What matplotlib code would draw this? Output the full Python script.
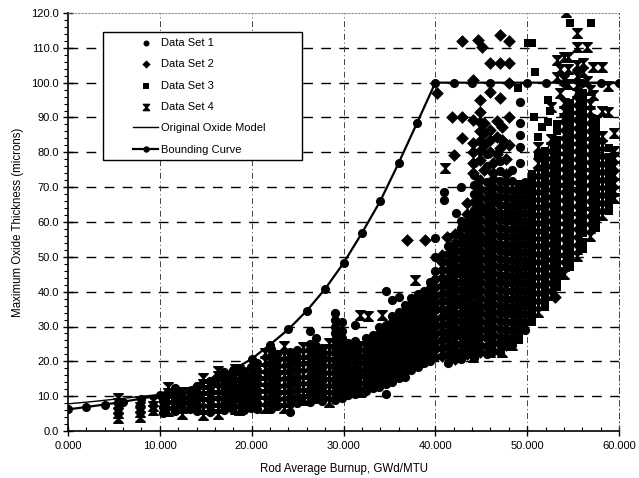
import matplotlib
matplotlib.use("Agg")
import matplotlib.pyplot as plt
from matplotlib.path import Path
from matplotlib.patches import Rectangle
from matplotlib.ticker import MultipleLocator, FormatStrFormatter

plt.rcParams['font.family'] = ['Liberation Sans', 'DejaVu Sans']

# ---------------- data ----------------
# Bounding curve
bound_x = [0, 2, 4, 6, 8, 10, 12, 14, 16, 18, 20, 22, 24, 26, 28, 30, 32, 34, 36, 38, 40,
           42, 44, 46, 48, 50, 52, 54, 56, 58, 60]
bound_y = [6.2, 6.9, 7.6, 8.4, 9.3, 10.3, 11.5, 13.0, 15.0, 17.6, 20.7, 24.8, 29.2, 34.5, 40.8,
           48.2, 56.8, 66.0, 76.9, 88.4, 100.0,
           100.0, 100.0, 100.0, 100.0, 100.0, 100.0, 100.0, 100.0, 100.0, 100.0]

# Original oxide model
orig_x = [0, 2.5, 5, 7.5, 10, 12.5, 15, 17.5, 20, 22.5, 25, 27.5, 30, 32.5, 35, 37.5, 40,
          42.5, 45, 47.5, 50, 52.5, 55, 56]
orig_y = [7.8, 8.4, 9.1, 9.8, 10.5, 11.3, 12.3, 13.5, 14.8, 16.4, 18.3, 20.5, 23.2, 26.0, 29.6,
          34.0, 40.0, 45.5, 52.5, 61.0, 71.5, 82.5, 95.5, 100.5]

# Data Set 1 (circles): (burnup, [oxide values])
set1_cols = [
    (10.3, [5.3, 6.9, 8.5, 10.1]),
    (11.6, [5.6, 7.3, 8.9, 10.6, 12.3]),
    (13.3, [6.4, 8.1, 9.7, 11.4]),
    (14.0, [5.8, 7.5, 9.3, 11.0, 12.8]),
    (15.5, [5.4, 7.2, 9.0, 10.8, 12.6, 14.4]),
    (17.0, [5.9, 7.8, 9.7, 11.6, 13.5, 15.4, 17.0]),
    (17.7, [6.6, 8.5, 10.4, 12.3, 14.2, 16.2]),
    (19.2, [5.9, 7.8, 9.7, 11.6, 13.5, 15.4, 17.2]),
    (19.9, [6.7, 8.6, 10.5, 12.4, 14.3, 16.2, 18.3]),
    (20.6, [6.2, 8.1, 10.0, 11.9, 13.8, 15.7, 17.6, 19.6]),
    (22.1, [6.3, 8.2, 10.1, 12.0, 13.9, 15.8, 17.7, 19.6, 21.5, 23.4]),
    (22.8, [7.2, 9.1, 11.0, 12.9, 14.8, 16.7, 18.6, 20.5, 22.0]),
    (24.2, [5.5, 7.7, 9.6, 11.5, 13.4, 15.3, 17.2, 19.1, 21.0, 22.6]),
    (24.9, [8.0, 9.9, 11.8, 13.7, 15.6, 17.5, 19.4, 21.3, 23.2]),
    (26.3, [8.2, 10.1, 12.0, 13.9, 15.8, 17.7, 19.6, 21.5, 23.4, 25.0, 28.7]),
    (27.0, [9.1, 11.0, 12.9, 14.8, 16.7, 18.6, 20.5, 22.4, 24.3, 26.8]),
    (27.7, [8.6, 10.5, 12.4, 14.3, 16.2, 18.1, 20.0, 21.9, 23.8]),
    (29.1, [9.0, 10.9, 12.8, 14.7, 16.6, 18.5, 20.4, 22.3, 24.2, 26.1, 28.0, 29.9, 31.8, 34.0]),
    (29.8, [9.6, 11.5, 13.4, 15.3, 17.2, 19.1, 21.0, 22.9, 24.8, 26.7, 28.6, 31.2]),
    (30.5, [10.2, 12.1, 14.0, 15.9, 17.8, 19.7, 21.6, 23.5, 25.4]),
    (31.2, [10.6, 12.5, 14.4, 16.3, 18.2, 20.1, 22.0, 23.9, 25.8, 30.4]),
    (32.5, [11.6, 13.5, 15.4, 17.3, 19.2, 21.1, 23.0, 24.9, 26.8]),
    (33.2, [12.3, 14.2, 16.1, 18.0, 19.9, 21.8, 23.7, 25.6, 27.5]),
    (33.9, [12.7, 14.6, 16.5, 18.4, 20.3, 22.2, 24.1, 26.0, 27.9, 29.8]),
    (34.6, [10.5, 13.4, 15.3, 17.2, 19.1, 21.0, 22.9, 24.8, 26.7, 28.6, 30.5, 40.3]),
    (35.3, [14.2, 16.1, 18.0, 19.9, 21.8, 23.7, 25.6, 27.5, 29.4, 31.3, 33.0, 37.6]),
    (36.0, [15.3, 17.2, 19.1, 21.0, 22.9, 24.8, 26.7, 28.6, 30.5, 32.4, 34.2, 38.5]),
    (36.7, [15.4, 17.3, 19.2, 21.1, 23.0, 24.9, 26.8, 28.7, 30.6, 32.5, 34.4, 36.2]),
    (37.4, [17.6, 19.5, 21.4, 23.3, 25.2, 27.1, 29.0, 30.9, 32.8, 34.7, 36.6, 38.2]),
    (38.1, [18.4, 20.3, 22.2, 24.1, 26.0, 27.9, 29.8, 31.7, 33.6, 35.5, 37.4, 39.3]),
    (38.8, [19.4, 21.3, 23.2, 25.1, 27.0, 28.9, 30.8, 32.7, 34.6, 36.5, 38.4, 40.3]),
    (39.4, [20.1, 22.0, 23.9, 25.8, 27.7, 29.6, 31.5, 33.4, 35.3, 37.2, 39.1, 41.0, 42.8]),
    (40.0, [21.2, 23.5, 25.6, 27.9, 30.1, 32.2, 34.6, 36.8, 39.0, 41.3, 43.5, 45.8, 50.0, 55.4]),
    (40.9, [66.3, 68.5]),
    (41.4, [19.6, 21.9, 24.0, 26.3, 28.5, 30.8, 33.0, 35.1, 37.4, 39.6, 41.9, 44.0, 46.3, 48.5,
            50.8, 53.0, 55.7]),
    (42.2, [62.6]),
    (42.8, [20.6, 22.7, 25.0, 27.2, 29.4, 31.7, 33.9, 36.1, 38.3, 40.6, 42.8, 45.0, 47.2, 49.5,
            51.7, 53.9, 56.1, 58.4, 60.2, 70.0]),
    (44.2, [21.0, 23.3, 25.5, 27.7, 30.0, 32.2, 34.4, 36.6, 38.9, 41.1, 43.3, 45.6, 47.8, 50.0,
            52.2, 54.5, 56.7, 58.9, 61.1, 63.4, 65.6, 68.0, 70.5, 73.5, 77.0]),
    (45.6, [22.1, 24.3, 26.6, 28.8, 31.0, 33.2, 35.5, 37.7, 39.9, 42.1, 44.4, 46.6, 48.8, 51.0,
            53.3, 55.5, 57.7, 60.0, 62.2, 64.4, 66.6, 68.9, 71.4, 76.0, 79.5]),
    (47.0, [22.7, 24.9, 27.1, 29.4, 31.6, 33.8, 36.0, 38.3, 40.5, 42.7, 44.9, 47.2, 49.4, 51.6,
            53.8, 56.1, 58.3, 60.5, 62.7, 65.0, 67.2, 69.4, 71.7, 74.5, 77.6]),
    (48.4, [24.6, 26.8, 29.1, 31.3, 33.5, 35.7, 38.0, 40.2, 42.4, 44.6, 46.9, 49.1, 51.3, 53.5,
            55.8, 58.0, 60.2, 62.4, 64.7, 66.9, 69.2, 71.8, 75.0]),
    (49.2, [77.0, 81.5, 85.0, 88.4, 94.5]),
    (49.8, [29.1, 31.4, 33.6, 35.8, 38.0, 40.3, 42.5, 44.7, 47.0, 49.2, 51.4, 53.6, 55.9, 58.1,
            60.3, 62.6, 64.8, 67.0, 69.3, 71.6]),
]

# Data Set 2 (diamonds)
set2_cols = [
    (36.9, [54.8]),
    (38.9, [54.8]),
    (40.2, [97.0]),
    (40.7, [21.6, 23.8, 26.1, 28.3, 30.5, 32.7, 35.0, 37.2, 39.4, 41.7, 43.9, 46.1, 48.4, 50.4]),
    (41.3, [55.7]),
    (41.8, [90.0]),
    (42.0, [79.2]),
    (42.1, [20.6, 22.9, 25.1, 27.3, 29.6, 31.8, 34.0, 36.2, 38.5, 40.7, 42.9, 45.2, 47.4, 49.6,
            51.9, 54.1, 56.5]),
    (42.9, [84.0, 90.2, 112.0]),
    (43.5, [22.1, 24.4, 26.6, 28.8, 31.1, 33.3, 35.5, 37.8, 40.0, 42.2, 44.5, 46.7, 48.9, 51.2,
            53.4, 55.6, 57.9, 60.1, 62.2, 65.5]),
    (44.1, [74.0, 77.0, 80.0, 82.7, 89.3, 100.8]),
    (44.7, [112.2]),
    (44.9, [22.6, 24.8, 27.1, 29.3, 31.5, 33.8, 36.0, 38.2, 40.5, 42.7, 44.9, 47.2, 49.4, 51.6,
            53.9, 56.1, 58.3, 60.6, 62.8, 65.0, 67.3, 69.6, 72.0, 77.8, 80.5, 83.2, 86.0, 88.6,
            91.5, 95.0]),
    (45.1, [110.3]),
    (45.3, [75.0, 82.0, 85.5, 88.5]),
    (46.0, [80.0, 83.5, 86.4, 97.4, 105.6]),
    (46.3, [23.1, 25.4, 27.6, 29.8, 32.1, 34.3, 36.5, 38.8, 41.0, 43.2, 45.5, 47.7, 49.9, 52.2,
            54.4, 56.6, 58.9, 61.1, 63.3, 65.6, 67.8, 70.0, 72.4, 74.2, 77.0]),
    (46.7, [79.5, 84.5, 89.0]),
    (47.0, [81.2, 95.6, 105.6, 113.7]),
    (47.3, [83.5, 87.3]),
    (47.7, [24.6, 26.9, 29.1, 31.3, 33.6, 35.8, 38.0, 40.3, 42.5, 44.7, 47.0, 49.2, 51.4, 53.7,
            55.9, 58.1, 60.4, 62.6, 64.8, 67.1, 69.3, 71.6, 73.9, 78.0]),
    (48.0, [82.0, 90.2, 100.0, 105.6, 112.0]),
    (53.0, [38.5]),
]

# Data Set 3 (squares)
set3_cols = [
    (25.5, [9.4]),
    (26.4, [10.3]),
    (39.1, [22.4]),
    (49.0, [98.5]),
    (49.1, [26.2, 28.4, 30.7, 32.9, 35.1, 37.4, 39.6, 41.8, 44.1, 46.3, 48.5, 50.8, 53.0, 55.2,
            57.5, 59.7, 61.9, 64.2, 66.4, 68.6, 71.0]),
    (50.1, [111.4]),
    (50.5, [31.2, 33.4, 35.7, 37.9, 40.1, 42.4, 44.6, 46.8, 49.1, 51.3, 53.5, 55.8, 58.0, 60.2,
            62.5, 64.7, 66.9, 69.2, 71.4, 73.8, 111.4]),
    (50.7, [90.0]),
    (50.9, [103.0]),
    (51.2, [79.2, 84.4]),
    (51.6, [87.3]),
    (51.9, [35.6, 37.9, 40.1, 42.3, 44.6, 46.8, 49.0, 51.3, 53.5, 55.7, 58.0, 60.2, 62.4, 64.7,
            66.9, 69.1, 71.4, 73.6, 75.8, 78.1, 80.5]),
    (52.3, [88.7, 95.0]),
    (52.5, [92.0]),
    (53.3, [41.2, 43.4, 45.7, 47.9, 50.1, 52.4, 54.6, 56.8, 59.1, 61.3, 63.5, 65.8, 68.0, 70.2,
            72.5, 74.7, 76.9, 79.2, 81.4, 83.6, 86.0, 88.0]),
    (54.7, [47.2, 49.4, 51.7, 53.9, 56.1, 58.4, 60.6, 62.8, 65.1, 67.3, 69.5, 71.8, 74.0, 76.2,
            78.5, 80.7, 82.9, 85.2, 87.4, 89.6, 91.9, 94.3, 117.2]),
    (56.1, [52.2, 54.4, 56.7, 58.9, 61.1, 63.4, 65.6, 67.8, 70.1, 72.3, 74.5, 76.8, 79.0, 81.2,
            83.5, 85.7, 87.9, 90.2, 92.4, 94.6, 97.0]),
    (56.9, [117.0]),
    (57.5, [58.2, 60.4, 62.7, 64.9, 67.1, 69.4, 71.6, 73.8, 76.1, 78.3, 80.5, 82.8, 85.0, 87.3,
            89.6]),
    (58.9, [63.2, 65.4, 67.7, 69.9, 72.1, 74.4, 76.6, 78.8, 81.2]),
]

# Data Set 4 (hourglass crosses)
set4_cols = [
    (5.4, [3.8, 5.2, 6.6, 8.0, 9.6]),
    (7.8, [4.1, 5.5, 7.0, 8.6]),
    (9.3, [6.0, 7.3, 8.6]),
    (10.9, [5.8, 7.5, 9.1, 10.9, 12.6]),
    (12.4, [4.9, 6.5, 8.1, 9.8, 11.3]),
    (14.7, [4.7, 6.4, 8.3, 10.0, 11.8, 13.6, 15.2]),
    (16.3, [4.9, 6.6, 8.4, 10.3, 12.1, 14.0, 15.9, 17.3]),
    (18.2, [6.4, 8.3, 10.2, 12.1, 14.0, 15.9, 17.8]),
    (18.6, [6.0, 7.9, 9.8, 11.7, 13.5, 15.4, 17.6]),
    (21.4, [6.7, 8.6, 10.5, 12.4, 14.3, 16.2, 18.1, 20.0, 22.3]),
    (23.5, [6.6, 8.4, 10.3, 12.2, 14.1, 16.0, 17.9, 19.8, 21.9, 24.5]),
    (25.6, [8.9, 10.8, 12.7, 14.6, 16.5, 18.4, 20.3, 22.1, 24.0]),
    (28.4, [8.3, 10.2, 12.1, 14.0, 15.9, 17.8, 19.7, 21.6, 23.5, 25.4]),
    (31.8, [11.2, 13.0, 14.9, 16.8, 18.7, 20.6, 22.5, 24.4, 33.3]),
    (32.7, [33.0]),
    (34.2, [33.3]),
    (37.8, [43.4]),
    (41.1, [75.5]),
    (44.1, [21.2]),
    (46.0, [22.7]),
    (47.3, [22.7]),
    (48.4, [24.7]),
    (51.2, [34.1, 36.3, 38.6, 40.8, 43.0, 45.3, 47.5, 49.7, 52.0, 54.2, 56.4, 58.7, 60.9, 63.1,
            65.4, 67.6, 69.8, 72.1, 74.3, 76.8, 81.5]),
    (52.6, [39.1, 41.4, 43.6, 45.8, 48.1, 50.3, 52.5, 54.8, 57.0, 59.2, 61.5, 63.7, 65.9, 68.2,
            70.4, 72.6, 74.9, 77.1, 79.3, 81.6, 83.9, 93.0]),
    (53.2, [101.5, 106.5]),
    (53.6, [45.7, 97.0, 104.0]),
    (54.0, [45.1, 47.3, 49.6, 51.8, 54.0, 56.3, 58.5, 60.7, 63.0, 65.2, 67.4, 69.7, 71.9, 74.1,
            76.4, 78.6, 80.8, 83.1, 85.3, 87.5, 89.8, 92.0, 94.2, 100.7, 107.4]),
    (54.2, [120.3]),
    (54.5, [99.5, 104.0, 107.4]),
    (55.4, [50.1, 52.3, 54.6, 56.8, 59.0, 61.3, 63.5, 65.7, 68.0, 70.2, 72.4, 74.7, 76.9, 79.1,
            81.4, 83.6, 85.8, 88.1, 90.3, 92.5, 94.8, 97.0, 99.2, 102.0, 105.2, 110.3, 114.3]),
    (56.1, [103.0, 105.6]),
    (56.5, [100.5, 110.3]),
    (56.8, [56.1, 58.3, 60.6, 62.8, 65.0, 67.3, 69.5, 71.7, 74.0, 76.2, 78.4, 80.7, 82.9, 85.1,
            87.4, 89.6, 91.8, 94.0, 98.0]),
    (57.2, [96.5, 104.5]),
    (58.2, [62.1, 64.3, 66.6, 68.8, 71.0, 73.3, 75.5, 77.7, 80.0, 82.2, 84.6, 92.0, 104.5]),
    (58.8, [91.6, 99.0]),
    (59.5, [66.8, 69.0, 71.3, 73.6, 76.0, 78.5, 80.5, 85.5]),
]


def flatten(cols):
    xs, ys = [], []
    for x, yl in cols:
        for y in yl:
            xs.append(x)
            ys.append(y)
    return xs, ys


# ---------------- figure ----------------
W, H = 639, 478
fig = plt.figure(figsize=(W / 100, H / 100), dpi=100)
ax = fig.add_axes([68 / W, 47 / H, 551 / W, 418 / H])

hourglass = Path([(-1, 1), (1, 1), (0, 0), (-1, 1),
                  (-1, -1), (1, -1), (0, 0), (-1, -1)],
                 [Path.MOVETO, Path.LINETO, Path.LINETO, Path.CLOSEPOLY,
                  Path.MOVETO, Path.LINETO, Path.LINETO, Path.CLOSEPOLY])

x1, y1 = flatten(set1_cols)
x2, y2 = flatten(set2_cols)
x3, y3 = flatten(set3_cols)
x4, y4 = flatten(set4_cols)

h1 = ax.scatter(x1, y1, s=44, marker='o', c='black', linewidths=0, zorder=3, label='Data Set 1')
h2 = ax.scatter(x2, y2, s=42, marker='D', c='black', linewidths=0, zorder=3, label='Data Set 2')
h3 = ax.scatter(x3, y3, s=40, marker='s', c='black', linewidths=0, zorder=3, label='Data Set 3')
h4 = ax.scatter(x4, y4, s=46, marker=hourglass, c='black', edgecolors='black', linewidths=1.1,
                zorder=3, label='Data Set 4')
h5, = ax.plot(orig_x, orig_y, color='black', lw=1.0, zorder=4, label='Original Oxide Model')
h6, = ax.plot(bound_x, bound_y, color='black', lw=1.6, marker='o', ms=5.5, zorder=5,
              label='Bounding Curve')

ax.set_xlim(0, 60)
ax.set_ylim(0, 120)

# grid
for yv in range(10, 120, 10):
    ax.axhline(yv, color='black', lw=1.0, ls=(0, (7, 6)), zorder=1)
for xv in range(10, 60, 10):
    ax.axvline(xv, color='#444444', lw=0.7, ls=(0, (6, 3, 1, 3)), zorder=1)

ax.spines['top'].set_linestyle((0, (2, 2)))
ax.spines['top'].set_linewidth(0.6)
ax.spines['top'].set_color('#777777')
ax.spines['right'].set_linestyle((0, (6, 3, 1, 3)))
ax.spines['right'].set_linewidth(0.7)
ax.spines['right'].set_color('#444444')
ax.spines['left'].set_linewidth(1.2)
ax.spines['bottom'].set_linewidth(1.2)

ax.xaxis.set_major_locator(MultipleLocator(10))
ax.xaxis.set_minor_locator(MultipleLocator(2))
ax.yaxis.set_major_locator(MultipleLocator(10))
ax.yaxis.set_minor_locator(MultipleLocator(2))
ax.xaxis.set_major_formatter(FormatStrFormatter('%.3f'))
ax.yaxis.set_major_formatter(FormatStrFormatter('%.1f'))
ax.tick_params(axis='x', which='major', direction='inout', length=7, width=1, labelsize=8, pad=4)
ax.tick_params(axis='x', which='minor', direction='in', length=3, width=0.8)
ax.tick_params(axis='y', which='major', direction='inout', length=7, width=1, labelsize=8, pad=3)
ax.tick_params(axis='y', which='minor', direction='out', length=3, width=0.8)
ax.tick_params(top=False, right=False, which='both')

ax.set_xlabel('Rod Average Burnup, GWd/MTU', fontsize=8.3, labelpad=8)
ax.set_ylabel('Maximum Oxide Thickness (microns)', fontsize=8.3, labelpad=5)

# legend box
ax.add_patch(Rectangle((103 / W, 1 - 160 / H), (302 - 103) / W, (160 - 32) / H,
                       transform=fig.transFigure, facecolor='white', edgecolor='black',
                       lw=1.0, zorder=6))
leg = fig.legend(handles=[h1, h2, h3, h4, h5, h6], loc='upper left',
                 bbox_to_anchor=(133 / W, 1 - 38 / H), frameon=False, fontsize=8,
                 handlelength=2.25, handletextpad=0.25, labelspacing=1.02,
                 borderpad=0, borderaxespad=0, scatterpoints=1, markerscale=0.65)
leg.set_zorder(7)

fig.savefig('out.png', dpi=100)
